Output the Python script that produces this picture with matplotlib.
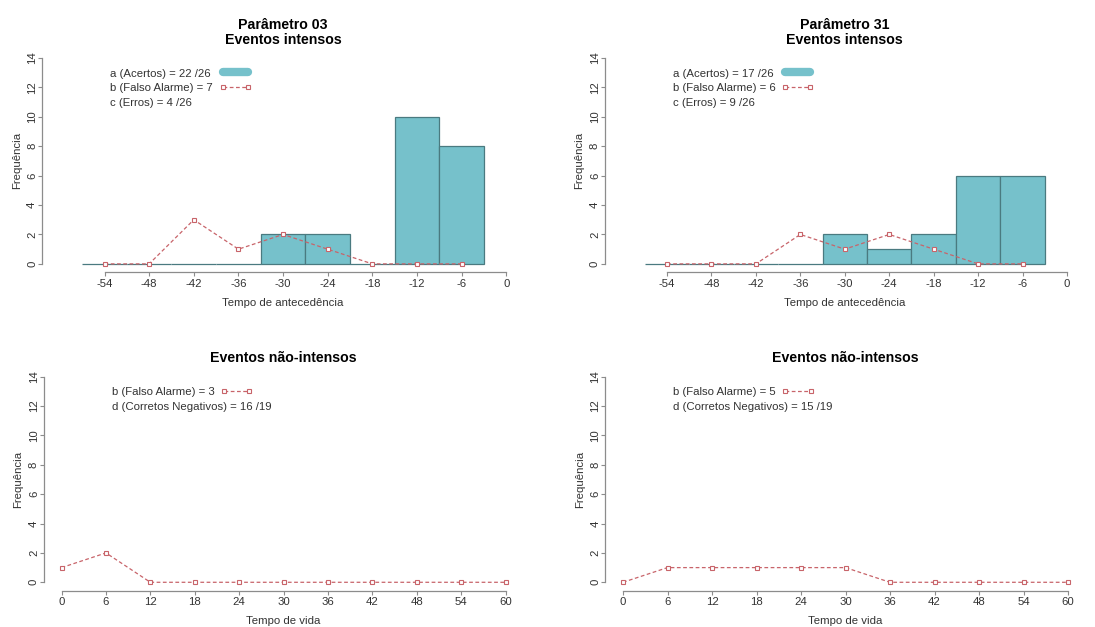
import matplotlib
matplotlib.use("Agg")
import matplotlib.pyplot as plt
from matplotlib.lines import Line2D

plt.rcParams['font.family'] = ['Liberation Sans Narrow', 'Liberation Sans', 'DejaVu Sans']
plt.rcParams['axes.unicode_minus'] = False

# lead time classes (hours before the event)
lead_times = [-54, -48, -42, -36, -30, -24, -18, -12, -6]
lead_ticks = [-54, -48, -42, -36, -30, -24, -18, -12, -6, 0]

# life time classes
life_times = [0, 6, 12, 18, 24, 30, 36, 42, 48, 54, 60]

# parameter 03
hits_p03 = [0, 0, 0, 0, 2, 2, 0, 10, 8]
fa_p03 = [0, 0, 3, 1, 2, 1, 0, 0, 0]
fa_life_p03 = [1, 2, 0, 0, 0, 0, 0, 0, 0, 0, 0]
legend_int_p03 = ["a (Acertos) = 22 /26", "b (Falso Alarme) = 7", "c (Erros) = 4 /26"]
legend_non_p03 = ["b (Falso Alarme) = 3", "d (Corretos Negativos) = 16 /19"]

# parameter 31
hits_p31 = [0, 0, 0, 0, 2, 1, 2, 6, 6]
fa_p31 = [0, 0, 0, 2, 1, 2, 1, 0, 0]
fa_life_p31 = [0, 1, 1, 1, 1, 1, 0, 0, 0, 0, 0]
legend_int_p31 = ["a (Acertos) = 17 /26", "b (Falso Alarme) = 6", "c (Erros) = 9 /26"]
legend_non_p31 = ["b (Falso Alarme) = 5", "d (Corretos Negativos) = 15 /19"]

TEAL = "#76c1cb"
EDGE = "#4a7a80"
RED = "#c8646a"
AXC = "#8c8c8c"
TXT = "#333333"
FS = 8.2


def fa_line(ax, x, y):
	ax.plot(x, y, color=RED, lw=0.9, dashes=(3, 2), marker='s', ms=3.0,
			mfc='white', mec=RED, mew=0.8, zorder=3)


def style_axes(ax, xticks, xlabel):
	ax.spines['top'].set_visible(False)
	ax.spines['right'].set_visible(False)
	for s in ['left', 'bottom']:
		ax.spines[s].set_color(AXC)
		ax.spines[s].set_linewidth(0.9)
	ax.spines['left'].set_bounds(0, 14)
	ax.spines['bottom'].set_bounds(xticks[0], xticks[-1])
	ax.set_ylim(-0.56, 14.56)
	ax.set_yticks(range(0, 15, 2))
	ax.set_xticks(xticks)
	ax.tick_params(length=3, width=0.8, color=AXC, labelsize=FS, labelcolor=TXT, pad=2)
	ax.tick_params(axis='y', pad=0.5)
	for lab in ax.get_yticklabels():
		lab.set_rotation(90)
		lab.set_va('center')
	ax.set_xlabel(xlabel, fontsize=FS, color=TXT, labelpad=6.5)
	ax.set_ylabel("Frequência", fontsize=FS, color=TXT, labelpad=4)


def legend_block(ax, lines, keys, y0):
	# text rows on the left, keys in a separate column to the right
	for i, t in enumerate(lines):
		ax.text(0.142, y0 - i * 0.066, t, transform=ax.transAxes, fontsize=FS,
				color=TXT, va='center', ha='left')
	ax.legend(handles=keys, labels=[' '] * len(keys), loc='upper left',
			  bbox_to_anchor=(0.368, y0 + 0.025), frameon=False, fontsize=FS,
			  handlelength=2.8, handletextpad=0, borderpad=0, borderaxespad=0,
			  labelspacing=0.42, numpoints=2)


key_hit = Line2D([], [], color=TEAL, lw=6, solid_capstyle='round')
key_fa = Line2D([], [], color=RED, lw=0.9, dashes=(3, 2), marker='s', ms=3.0,
				mfc='white', mec=RED, mew=0.8)

fig = plt.figure(figsize=(10.95, 6.27), dpi=100)
ax1 = fig.add_axes([0.0384, 0.566, 0.4402, 0.3547])
ax2 = fig.add_axes([0.5523, 0.566, 0.4384, 0.3547])
ax3 = fig.add_axes([0.0400, 0.0582, 0.4380, 0.3541])
ax4 = fig.add_axes([0.5527, 0.0582, 0.4389, 0.3541])

# top panels: extreme events
for ax, hits, fa, title, leg in [(ax1, hits_p03, fa_p03, "Parâmetro 03\nEventos intensos", legend_int_p03),
								 (ax2, hits_p31, fa_p31, "Parâmetro 31\nEventos intensos", legend_int_p31)]:
	ax.bar(lead_times, hits, width=6, color=TEAL, edgecolor=EDGE, linewidth=0.9, zorder=2)
	fa_line(ax, lead_times, fa)
	style_axes(ax, lead_ticks, "Tempo de antecedência")
	ax.set_xlim(-62.4, 2.4)
	ax.set_title(title, fontsize=10.2, fontweight='bold', color='black', pad=4, linespacing=1.15)
	legend_block(ax, leg, [key_hit, key_fa], 0.893)

# bottom panels: non-extreme events
for ax, fa, leg in [(ax3, fa_life_p03, legend_non_p03), (ax4, fa_life_p31, legend_non_p31)]:
	fa_line(ax, life_times, fa)
	style_axes(ax, life_times, "Tempo de vida")
	ax.set_xlim(-2.4, 62.4)
	ax.set_title("Eventos não-intensos", fontsize=10.2, fontweight='bold', color='black', pad=4.5)
	legend_block(ax, leg, [key_fa], 0.893)

fig.savefig("out.png", dpi=100)
